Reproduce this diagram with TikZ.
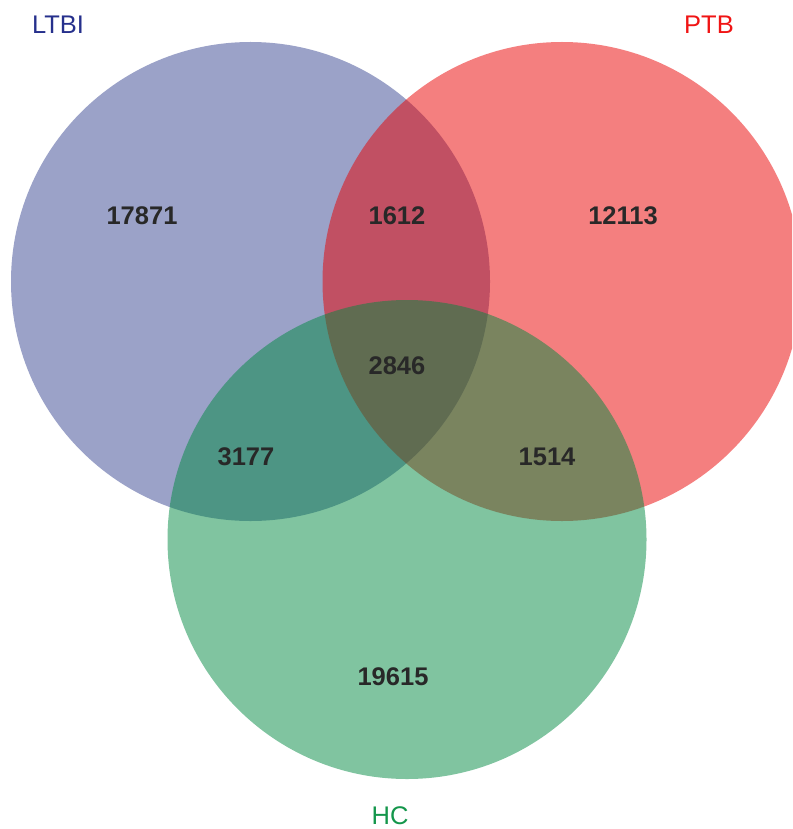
\documentclass[tikz,border=0pt]{standalone}
\usepackage{fontspec}
\setmainfont{Liberation Sans}
\definecolor{ltbicol}{RGB}{55,69,145}
\definecolor{ptbcol}{RGB}{233,0,0}
\definecolor{hccol}{RGB}{1,137,65}
\definecolor{numcol}{RGB}{40,40,40}
\definecolor{ltbilab}{RGB}{38,48,140}
\definecolor{ptblab}{RGB}{240,20,20}
\definecolor{hclab}{RGB}{20,150,75}
\begin{document}
\begin{tikzpicture}[x=1pt,y=-1pt,
  setcircle/.style={fill opacity=0.5, draw=none},
  num/.style={text=numcol, font=\fontsize{25.5}{30}\selectfont\bfseries, inner sep=0pt},
  setlabel/.style={font=\fontsize{25.5}{30}\selectfont, inner sep=0pt}]
\useasboundingbox (0,0) rectangle (792,829);
\clip (0,0) rectangle (792,829);
\fill[setcircle, fill=ltbicol] (250.5,281.5) circle (239.5);
\fill[setcircle, fill=ptbcol] (562,281.5) circle (239.5);
\fill[setcircle, fill=hccol] (407,539.5) circle (239.5);
\node[num] (n1) at (142,216) {17871};
\node[num] (n2) at (397,216) {1612};
\node[num] (n3) at (623,216) {12113};
\node[num] (n4) at (397,366) {2846};
\node[num] (n5) at (246,457) {3177};
\node[num] (n6) at (547,457) {1514};
\node[num] (n7) at (393,677) {19615};
\node[setlabel, text=ltbilab] (lltbi) at (58,25) {LTBI};
\node[setlabel, text=ptblab] (lptb) at (709,25) {PTB};
\node[setlabel, text=hclab] (lhc) at (390,816) {HC};
\end{tikzpicture}
\end{document}
